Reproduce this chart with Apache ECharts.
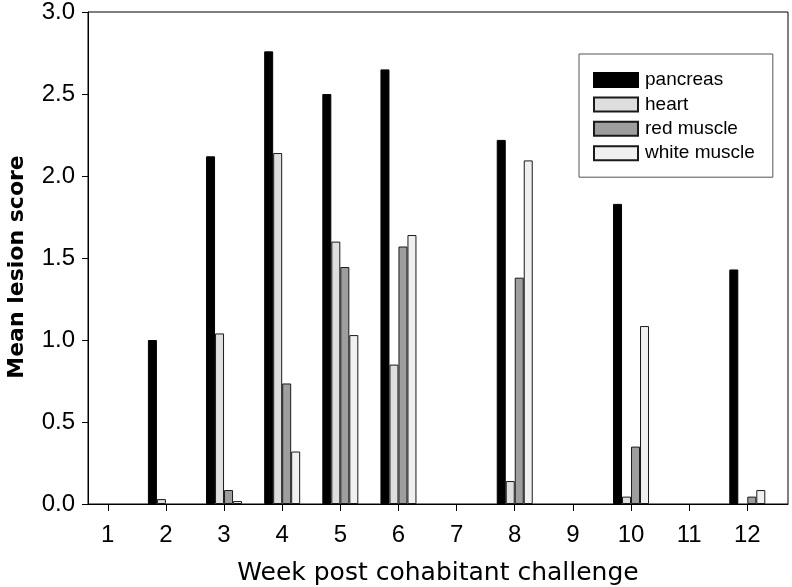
<!DOCTYPE html>
<html>
<head>
<meta charset="utf-8">
<script src="https://cdn.jsdelivr.net/npm/echarts@6/dist/echarts.min.js"></script>
<style>
html,body{margin:0;padding:0;background:#fff;}
#chart{width:792px;height:587px;}
</style>
</head>
<body>
<div id="chart"></div>
<script>
// Data
var weekTicks = [1,2,3,4,5,6,7,8,9,10,11,12];
var weeks = [2,3,4,5,6,8,10,12];
var pancreas    = [1.00, 2.12, 2.76, 2.50, 2.65, 2.22, 1.83, 1.43];
var heart       = [0.03, 1.04, 2.14, 1.60, 0.85, 0.14, 0.045, 0];
var redMuscle   = [0, 0.085, 0.735, 1.445, 1.57, 1.38, 0.35, 0.045];
var whiteMuscle = [0, 0.018, 0.32, 1.03, 1.64, 2.095, 1.085, 0.085];
var seriesNames = ['pancreas','heart','red muscle','white muscle'];
var seriesColors = ['#000000','#dedede','#9e9e9e','#f0f0f0'];
var seriesValues = [pancreas, heart, redMuscle, whiteMuscle];

var chart = echarts.init(document.getElementById('chart'), null, {renderer:'canvas'});

var series = seriesNames.map(function(name, i){
  return {
    name: name,
    type: 'bar',
    barWidth: 9,
    barGap: '0%',
    itemStyle: {color: seriesColors[i], borderColor: i === 0 ? '#000' : '#1a1a1a', borderWidth: 1},
    data: weeks.map(function(w, j){ var v = seriesValues[i][j]; return [w, v === 0 ? null : v]; }),
    animation: false
  };
});

var option = {
  backgroundColor: '#fff',
  animation: false,
  grid: {left: 88, right: 4, top: 12, bottom: 83, containLabel: false, outerBoundsMode: 'none',
         show: true, borderColor: '#000', borderWidth: 1, backgroundColor: 'transparent'},
  legend: {
    orient: 'vertical',
    left: 579, top: 54,
    padding: [16, 18, 14, 14],
    itemWidth: 44, itemHeight: 14, itemGap: 4.4,
    icon: 'rect',
    borderColor: '#555', borderWidth: 1,
    backgroundColor: '#fff',
    textStyle: {fontFamily: 'Liberation Sans, Arial, sans-serif', fontSize: 19, color: '#000', lineHeight: 20, padding: [0,0,0,2]},
    data: seriesNames
  },
  xAxis: {
    type: 'value',
    min: 0.66, max: 12.70,
    name: 'Week post cohabitant challenge',
    nameLocation: 'middle',
    nameGap: 57,
    nameTextStyle: {fontFamily: 'DejaVu Sans, sans-serif', fontSize: 25, color: '#000'},
    axisLine: {show: true, lineStyle: {color: '#000', width: 1}},
    axisTick: {show: true, customValues: weekTicks, length: 7, lineStyle: {color: '#000'}},
    axisLabel: {customValues: weekTicks, margin: 19, fontFamily: 'Liberation Sans, Arial, sans-serif', fontSize: 24, color: '#000'},
    splitLine: {show: false}
  },
  yAxis: {
    type: 'value',
    min: 0, max: 3, interval: 0.5,
    name: 'Mean lesion score',
    nameLocation: 'middle',
    nameGap: 60,
    nameTextStyle: {fontFamily: 'DejaVu Sans, sans-serif', fontWeight: 'bold', fontSize: 22, color: '#000', padding: [0, 18, 0, 0]},
    axisLine: {show: true, lineStyle: {color: '#000', width: 1}},
    axisTick: {show: true, length: 6, lineStyle: {color: '#000'}},
    axisLabel: {margin: 13, fontFamily: 'Liberation Sans, Arial, sans-serif', fontSize: 24, color: '#000',
      formatter: function(v){ return v.toFixed(1); }},
    splitLine: {show: false}
  },
  series: series
};
chart.setOption(option);
</script>
</body>
</html>
